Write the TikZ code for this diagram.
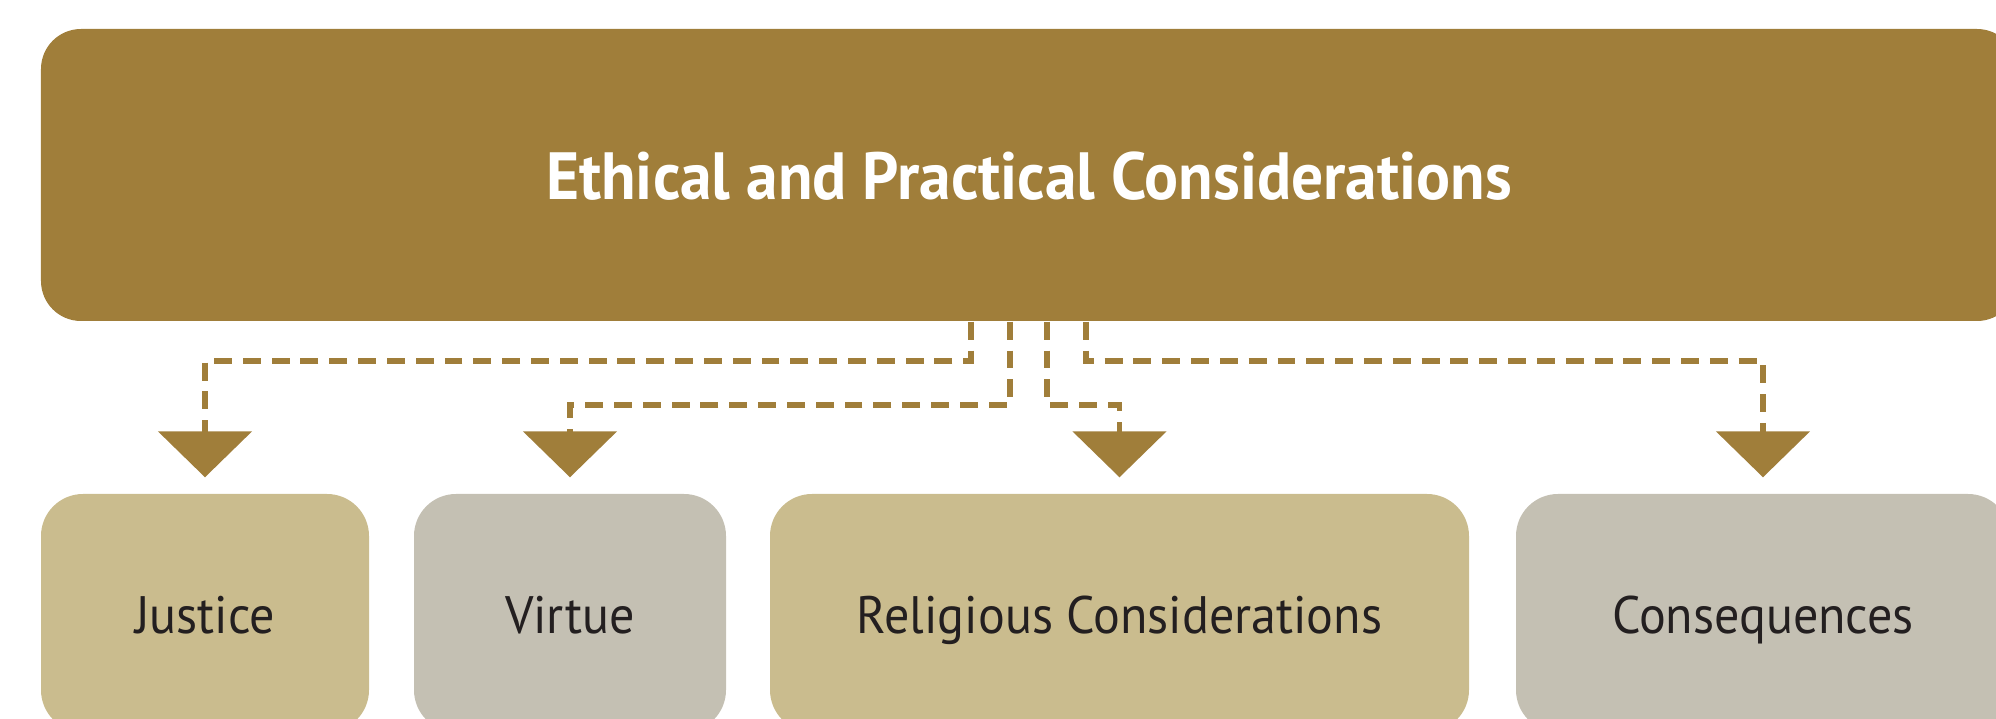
\documentclass[tikz,border=0pt]{standalone}
\usepackage{fontspec}
\setmainfont{PT Sans}[FakeStretch=0.95]
\usetikzlibrary{positioning, arrows.meta}

\definecolor{ochre}{HTML}{A07E3A}
\definecolor{sand}{HTML}{CABC8E}
\definecolor{stone}{HTML}{C4C0B3}
\definecolor{ink}{HTML}{231F20}

\tikzset{
  topic/.style={rectangle, rounded corners=4mm, fill=ochre, text=white,
    font=\bfseries\fontsize{19}{22}\selectfont,
    text height=0.5cm, text depth=0cm,
    minimum width=19.76cm, minimum height=2.92cm},
  aspect/.style={rectangle, rounded corners=4.2mm, text=ink,
    font=\fontsize{15}{18}\selectfont,
    text height=0.42cm, text depth=0cm, minimum height=2.38cm},
  link/.style={draw=ochre, line width=1.7pt, dash pattern=on 5.1pt off 3.1pt,
    shorten >=1.6mm, -{Triangle[length=4.6mm, width=9.3mm]}}
}

\begin{document}
\begin{tikzpicture}
    \useasboundingbox (0,0) rectangle (19.96,-7.19);
    \clip (0,0) rectangle (19.96,-7.19);

    % Heading box
    \node[topic] (top) at (10.29,-1.75) {Ethical and Practical Considerations};

    % Row of aspects
    \foreach \name/\x/\w/\col/\txt in {justice/2.05/3.28/sand/Justice, virtue/5.70/3.12/stone/Virtue, religion/11.195/6.99/sand/Religious Considerations, conseq/17.63/4.94/stone/Consequences} {
      \node[aspect, fill=\col, minimum width=\w cm] (\name) at (\x,-6.13) {\txt};
    }

    % Dashed links from the heading down to each aspect
    \foreach \dx/\dy/\target in {-0.58/0.39/justice, -0.19/0.83/virtue, 0.18/0.83/religion, 0.57/0.39/conseq} {
      \draw[link] ([xshift=\dx cm]top.south) -- ++(0,-\dy) -| (\target);
    }

\end{tikzpicture}
\end{document}
